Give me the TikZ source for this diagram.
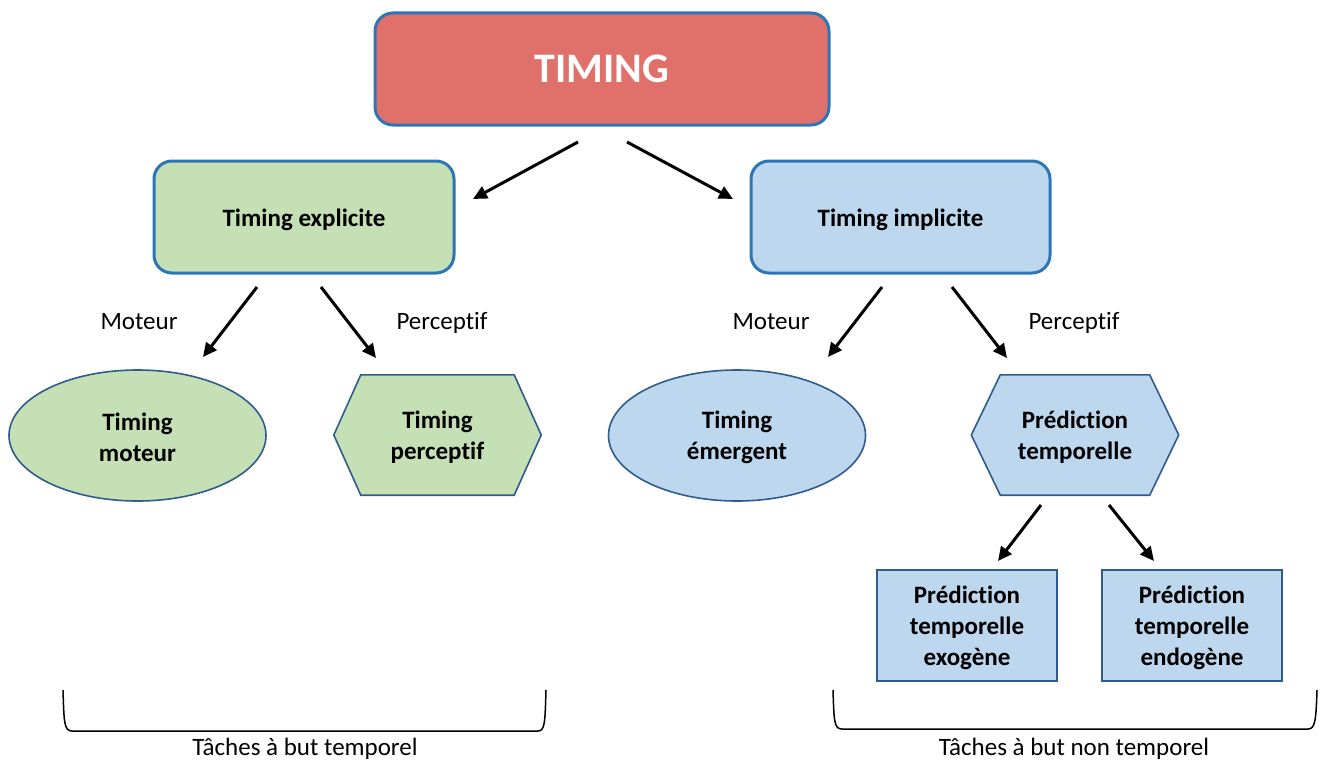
\documentclass[tikz,border=0pt]{standalone}
\usepackage{fontspec}
\setmainfont{Carlito}[Ligatures={NoCommon,NoRequired,NoContextual,NoRare}]
\usetikzlibrary{shapes.geometric,arrows.meta,calc}
\definecolor{redfill}{HTML}{E0716A}
\definecolor{greenfill}{HTML}{C5E0B4}
\definecolor{bluefill}{HTML}{BDD7EE}
\definecolor{boxline}{HTML}{2E75B6}
\definecolor{shapeline}{HTML}{2F5B8E}
\newcommand{\nti}{t\kern0pt i}
\begin{document}
\begin{tikzpicture}[x=1pt,y=-1pt,
  lbl/.style={font=\fontsize{25}{31}\selectfont, inner sep=0pt, anchor=base},
  boldtxt/.style={font=\fontsize{25}{31}\selectfont\bfseries, align=center, text=black, inner sep=0pt},
  roundbox/.style={draw=boxline, line width=3pt, rounded corners=18pt, minimum height=112pt, inner sep=0pt},
  ellnode/.style={ellipse, draw=shapeline, line width=1.6pt, minimum width=257pt, minimum height=131pt, inner sep=0pt},
  hexnode/.style={rectangle, minimum width=207pt, minimum height=120pt, inner sep=0pt},
  hexline/.style={draw=shapeline, line width=1.6pt},
  sqbox/.style={rectangle, draw=shapeline, line width=1.6pt, fill=bluefill, minimum width=180pt, minimum height=111pt, inner sep=0pt},
  arr/.style={line width=3pt, -{Triangle[length=14pt,width=13pt]}},
  brace/.style={line width=1.5pt, line join=round}
]
\useasboundingbox (0,0) rectangle (1321,760);

% top
\node[roundbox, fill=redfill, minimum width=454pt, font=\fontsize{42}{50}\selectfont\bfseries, text=white] (timing) at (602,69) {TIMING};
\node[roundbox, fill=greenfill, minimum width=300pt] (expl) at (304,217) {};
\node[roundbox, fill=bluefill, minimum width=299pt] (impl) at (900.5,217) {};
\node[boldtxt] (explt) at ([yshift=-3pt]expl.center) {Timing explicite};
\node[boldtxt] (implt) at ([yshift=-3pt]impl.center) {Timing implicite};

% second row: node frames
\node[ellnode, fill=greenfill] (tmot) at (137.5,435.5) {};
\node[hexnode] (tperc) at (437.5,435) {};
\node[ellnode, fill=bluefill] (temer) at (737,435.5) {};
\node[hexnode] (pred) at (1075,435) {};

% hexagons drawn from node anchors
\draw[hexline, fill=greenfill] (tperc.west) -- ($(tperc.north west)+(27,0)$) -- ($(tperc.north east)+(-27,0)$) -- (tperc.east) -- ($(tperc.south east)+(-27,0)$) -- ($(tperc.south west)+(27,0)$) -- cycle;
\draw[hexline, fill=bluefill] (pred.west) -- ($(pred.north west)+(29,0)$) -- ($(pred.north east)+(-29,0)$) -- (pred.east) -- ($(pred.south east)+(-29,0)$) -- ($(pred.south west)+(29,0)$) -- cycle;

% second row texts
\node[boldtxt] (tmott) at ([yshift=-2pt]tmot.center) {Timing\\moteur};
\node[boldtxt] (tpt) at ([yshift=-2pt]tperc.center) {Timing\\percep\nti f};
\node[boldtxt] (tet) at ([yshift=-2pt]temer.center) {Timing\\émergent};
\node[boldtxt] (predt) at ([yshift=-2pt]pred.center) {Prédic\nti on\\temporelle};

% third row
\node[sqbox] (exo) at (967,625.5) {};
\node[sqbox] (endo) at (1192,625.5) {};
\node[boldtxt] (exot) at ([yshift=-2pt]exo.center) {Prédic\nti on\\temporelle\\exogène};
\node[boldtxt] (endot) at ([yshift=-2pt]endo.center) {Prédic\nti on\\temporelle\\endogène};

% labels
\node[lbl] (lm1) at (139,329) {Moteur};
\node[lbl] (lp1) at (442,329) {Percep\nti f};
\node[lbl] (lm2) at (771,329) {Moteur};
\node[lbl] (lp2) at (1074,329) {Percep\nti f};
\node[lbl] (tb1) at (305,755) {Tâches à but temporel};
\node[lbl] (tb2) at (1074,755) {Tâches à but non temporel};

% arrow end points
\coordinate (a1s) at (578,142); \coordinate (a1e) at (473,199);
\coordinate (a2s) at (627,142); \coordinate (a2e) at (733,199);
\coordinate (b1s) at (257,287); \coordinate (b1e) at (203,357);
\coordinate (b2s) at (321,287); \coordinate (b2e) at (376,358);
\coordinate (c1s) at (882,287); \coordinate (c1e) at (828,357);
\coordinate (c2s) at (952,287); \coordinate (c2e) at (1007,358);
\coordinate (d1s) at (1041,505); \coordinate (d1e) at (998,561);
\coordinate (d2s) at (1109,505); \coordinate (d2e) at (1154,561);

\draw[arr] (a1s) -- (a1e);
\draw[arr] (a2s) -- (a2e);
\draw[arr] (b1s) -- (b1e);
\draw[arr] (b2s) -- (b2e);
\draw[arr] (c1s) -- (c1e);
\draw[arr] (c2s) -- (c2e);
\draw[arr] (d1s) -- (d1e);
\draw[arr] (d2s) -- (d2e);

% brackets
\coordinate (br1a) at (63,690); \coordinate (br1b) at (546,690);
\coordinate (br2a) at (833,690); \coordinate (br2b) at (1317,690);
\draw[brace] (br1a) .. controls (64,722) and (64,731) .. (72,731) -- (538,731) .. controls (545,731) and (545,722) .. (br1b);
\draw[brace] (br2a) .. controls (834,721) and (834,729) .. (842,729) -- (1308,729) .. controls (1315,729) and (1316,721) .. (br2b);
\end{tikzpicture}
\end{document}
